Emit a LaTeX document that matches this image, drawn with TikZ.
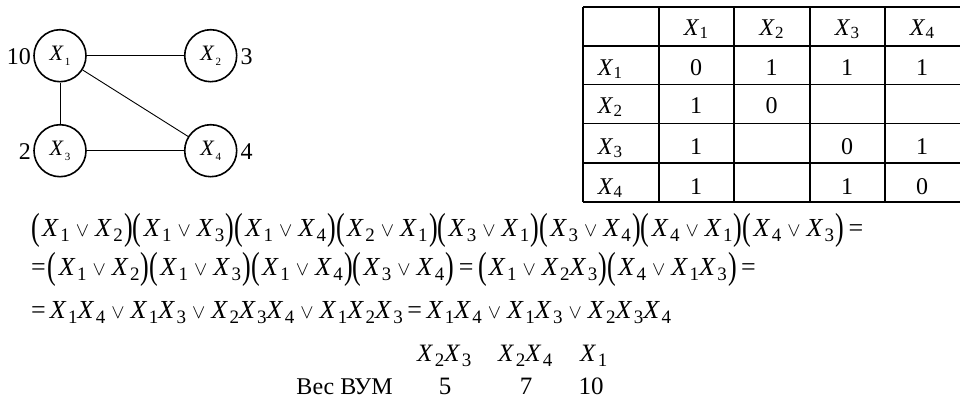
\documentclass[tikz,border=0pt]{standalone}
\usepackage{fontspec}
\setmainfont{Liberation Serif}
\usepackage{graphicx}
\newcommand\eX[1]{\textit{X}\kern1.5pt\raisebox{-5pt}{\fontsize{19}{19}\selectfont #1}}
\newcommand\tX[1]{\textit{X}\kern0.5pt\raisebox{-3pt}{\fontsize{17}{17}\selectfont #1}}
\newcommand\gX[1]{\textit{X}\kern1pt\raisebox{-5pt}{\fontsize{11}{11}\selectfont #1}}
\newcommand\lp{\raisebox{-3pt}{\scalebox{1}[1.45]{(}}\kern2.3pt}
\newcommand\rp{\kern1.3pt\raisebox{-3pt}{\scalebox{1}[1.45]{)}}}
\newcommand\OR{\hspace{6pt}\scalebox{0.8}{$\vee$}\hspace{6pt}}
\newcommand\EQ{\hspace{4.5pt}=\hspace{4.5pt}}
\begin{document}
\begin{tikzpicture}[x=1pt,y=-1pt,
  vtx/.style={circle,draw,line width=1.6pt,minimum size=52pt,inner sep=0pt,font=\fontsize{22}{22}\selectfont},
  wt/.style={font=\fontsize{24}{24}\selectfont,inner sep=0pt},
  edge/.style={line width=0.9pt},
  cell/.style={font=\fontsize{24}{24}\selectfont,inner sep=0pt,anchor=base},
  gridline/.style={line width=1.6pt},
  eq/.style={font=\fontsize{26}{26}\selectfont,inner sep=0pt,anchor=base west},
  row/.style={font=\fontsize{25}{25}\selectfont,inner sep=0pt}]
\useasboundingbox (0,0) rectangle (960,399);
% graph
\node[vtx] (v1) at (60,55.7) {\gX1};
\node[vtx] (v2) at (210.7,55.7) {\gX2};
\node[vtx] (v3) at (60,150.7) {\gX3};
\node[vtx] (v4) at (210.7,150.7) {\gX4};
\draw[edge] (v1) -- (v2);
\draw[edge] (v1) -- (v3);
\draw[edge] (v3) -- (v4);
\draw[edge] (v1) -- (v4);
\node[wt,anchor=east] (w1) at (31,56.5) {10};
\node[wt,anchor=west] (w2) at (240.5,56.5) {3};
\node[wt,anchor=east] (w3) at (31,151.5) {2};
\node[wt,anchor=west] (w4) at (240.5,151.5) {4};
% table
\draw[gridline] (583,6.7) -- (960,6.7);
\draw[gridline] (583,45.7) -- (960,45.7);
\draw[gridline] (583,84.3) -- (960,84.3);
\draw[gridline] (583,123.3) -- (960,123.3);
\draw[gridline] (583,162.7) -- (960,162.7);
\draw[gridline] (583,201.7) -- (960,201.7);
\foreach \cx in {583,659,734,810,885}{\draw[gridline] (\cx,6.7) -- (\cx,201.7);}
\node[cell] (h1) at (696,35) {\tX1};
\node[cell] (h2) at (771.5,35) {\tX2};
\node[cell] (h3) at (847,35) {\tX3};
\node[cell] (h4) at (922,35) {\tX4};
\node[cell] (r1) at (610,75) {\tX1};
\node[cell] (r2) at (610,113.5) {\tX2};
\node[cell] (r3) at (610,154) {\tX3};
\node[cell] (r4) at (610,194) {\tX4};
\node[cell] (c11) at (696,75) {0};
\node[cell] (c12) at (771.5,75) {1};
\node[cell] (c13) at (847,75) {1};
\node[cell] (c14) at (922,75) {1};
\node[cell] (c21) at (696,113.5) {1};
\node[cell] (c22) at (771.5,113.5) {0};
\node[cell] (c31) at (696,154) {1};
\node[cell] (c33) at (847,154) {0};
\node[cell] (c34) at (922,154) {1};
\node[cell] (c41) at (696,194) {1};
\node[cell] (c43) at (847,194) {1};
\node[cell] (c44) at (922,194) {0};
% equations
\node[eq] (e1) at (31,236) {\lp\eX1\OR\eX2\rp\lp\eX1\OR\eX3\rp\lp\eX1\OR\eX4\rp\lp\eX2\OR\eX1\rp\lp\eX3\OR\eX1\rp\lp\eX3\OR\eX4\rp\lp\eX4\OR\eX1\rp\lp\eX4\OR\eX3\rp\EQ};
\node[eq] (e2) at (31,275) {=\hspace{2pt}\lp\eX1\OR\eX2\rp\lp\eX1\OR\eX3\rp\lp\eX1\OR\eX4\rp\lp\eX3\OR\eX4\rp\EQ\lp\eX1\OR\eX2\eX3\rp\lp\eX4\OR\eX1\eX3\rp\EQ};
\node[eq] (e3) at (31,318) {=\hspace{4pt}\eX1\eX4\OR\eX1\eX3\OR\eX2\eX3\eX4\OR\eX1\eX2\eX3\EQ\eX1\eX4\OR\eX1\eX3\OR\eX2\eX3\eX4};
% weights
\node[row,anchor=base west] (p1) at (417,361) {\eX2\eX3};
\node[row,anchor=base west] (p2) at (498,361) {\eX2\eX4};
\node[row,anchor=base west] (p3) at (580,361) {\eX1};
\node[row,anchor=base east,font=\fontsize{24}{24}\selectfont] (lab) at (393,394) {Вес ВУМ};
\node[row,anchor=base] (n1) at (445,394) {5};
\node[row,anchor=base] (n2) at (526,394) {7};
\node[row,anchor=base] (n3) at (591,394) {10};
\end{tikzpicture}
\end{document}
